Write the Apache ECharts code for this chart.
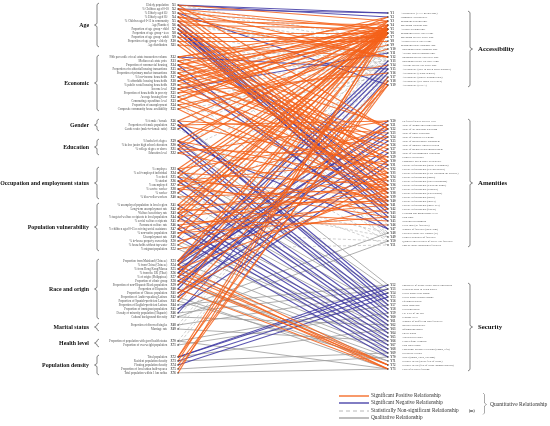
<!DOCTYPE html>
<html>
<head>
<meta charset="utf-8">
<title>Relationships</title>
<script src="https://cdn.jsdelivr.net/npm/echarts@6/dist/echarts.min.js"></script>
<style>html,body{margin:0;padding:0;background:#fff}#box{width:550px;height:426px}</style>
</head>
<body>
<div id="box"></div>
<script>
// left side (X) groups, slot = row position (one row ~4px)
var leftGroups = ['Age', 'Economic', 'Gender', 'Education', 'Occupation and employment status',
  'Population vulnerability', 'Race and origin', 'Marital status', 'Health level', 'Population density'];
var leftSizes = [11, 14, 3, 4, 8, 12, 15, 2, 2, 5];
var leftStart = [0, 13, 29, 34, 41, 50, 64, 80, 84, 88];

var rightGroups = ['Accessibility', 'Amenities', 'Security'];
var rightSizes = [19, 32, 22];
var rightStart = [2, 29, 70];

var leftLabels = [
  'Elderly population', '% Children aged 0-18', '% Elderly aged 65+', '% Elderly aged 85+',
  '% Children aged 0-12 in community', 'Age(Number)', 'Proportion of age group - child',
  'Proportion of age group - teen', 'Proportion of age group - adult', 'Proportion of age group - elderly',
  'Age distribution',
  '90th percentile of real estate transaction volume', 'Median real estate price',
  'Proportion of commercial housing', 'Proportion of residential housing transactions',
  'Proportion of primary market transactions', '% low-income households', '% affordable housing households',
  '% public rental housing households', 'Income level', 'Proportion of households in poverty',
  'Average housing floor', 'Commuting expenditure level', 'Proportion of unemployment',
  'Composite community house availability',
  '% female / female', 'Proportion of female population', 'Gender ratio (male-to-female ratio)',
  '% bachelor\'s degree', '% below junior high school education', '% college degree or above', 'Education level',
  '% employee', '% self-employed individual', '% retired', '% student', '% unemployed', '% service worker',
  '% worker', '% blue-collar workers',
  '% unemployed population in local region', 'Long-term unemployment rate', 'Welfare beneficiary rate',
  '% targeted welfare recipients in local population', '% social welfare recipients', 'Permanent welfare rate',
  '% children aged 0-15 receiving social assistance', '% non-native population', 'Unemployment rate',
  '% in-house property ownership', '% households without tap water', '% migrant population',
  'Proportion from Mainland (Chinese)', '% from China (Chinese)', '% from Hong Kong/Macau', '% from the UK (Tibet)',
  '% of origin (Philippines)', 'Proportion of ethnic group', 'Proportion of non-Hispanic Black population',
  'Proportion of Hispanics', 'Proportion of Chinese population', 'Proportion of Arabic-speaking Latinos',
  'Proportion of Spanish-proficient Latinos', 'Proportion of English-proficient Latinos',
  'Proportion of immigrant population', 'Density of minority population (Hispanic)', 'Cultural background diversity',
  'Proportion of divorced/singles', 'Marriage rate',
  'Proportion of population with good health status', 'Proportion of overweight population',
  'Total population', 'Resident population density', 'Floating population density',
  'Proportion of local urban built-up area', 'Total population within 1 km radius'
];

var rightLabels = [
  'Accessibility (XXX m coverage)', 'Composite accessibility', 'Minimum walking time', 'Maximum walking time',
  'Average walking time', 'Minimum bicycle travel time', 'Maximum bicycle travel time', 'Average bicycle travel time',
  'Minimum public transport time', 'Maximum public transport time', 'Average public transport time',
  'Minimum private car travel time', 'Maximum private car travel time', 'Average private car travel time',
  'Accessibility (user-to-green space distance)', 'Accessibility (visitor density)',
  'Accessibility (supply-demand ratio)', 'Accessibility (per capita UGS area)', 'Accessibility (SNCA)',
  'Preferred facility activity level', 'Value of animal and plant protection', 'Value of air pollution reduction',
  'Value of noise reduction', 'Value of rainwater retention', 'Value of microclimate adjustment',
  'Value of improve physical health', 'Value of mental health improvement', 'Value of environmental education',
  'Esthetic experience', 'Composite green space availability', 'Facility requirements (social willingness)',
  'Facility requirements (rest and picnic)', 'Facility requirements (relax watching the scenery)',
  'Facility requirements (sports)', 'Facility requirements (kids\' playground)', 'Facility requirements (watch the game)',
  'Facility requirements (aerobics)', 'Facility requirements (water sports)', 'Facility requirements (dance)',
  'Facility requirements (soccer)', 'Facility requirements (shade tree)', 'Facility requirements (fitness)',
  'Cleaning and maintenance level', 'Path slope', 'Walking environment', 'POIS total (21 facilities)',
  'Number of facilities (total/3km)', 'Facilities under tree canopy (%)', 'Esthetic attributes of facilities',
  'Quantity and diversity of active-use facilities', 'Poor or under-maintained facilities',
  'Possibility of being visible and seeing others', 'Hidden or hard-to-reach places', 'Green plants with thorns',
  'Green plants without thorns', 'Equipment status', 'Road condition', 'Greening status', 'Fill level of the bin',
  'Garbage level', 'Number of graffiti on park facilities', 'Internet accessibility', 'Information board',
  'Police patrol', 'Video surveillance', 'Fences/fight elements', 'Park path length',
  'Functional intensive division (ramps, lifts)', 'Deliberate terrain', 'Water (ponds, lakes, streams)',
  'Security needs (users\' fear of crime)', 'Security needs (fear of crime among students)', 'Lack of security/fencing'
];

// edges: [X index, [Y indices]]
var posEdges = [
  [1,[3,22]],[2,[5,12,30]],[3,[5,31]],[4,[6,12,33]],[5,[4,12,34]],[6,[5,35]],[7,[22,36]],[8,[6,37]],[9,[7,38]],[10,[8,40]],[11,[12,39]],
  [12,[3,5,21]],[13,[5,24,28]],[14,[2,6,25]],[15,[6,26]],[16,[4,30,41]],[17,[3,6,27]],[18,[5,7,29]],[19,[6,32]],[20,[4,9,34]],
  [21,[5,16]],[22,[6,36]],[23,[2,5,33]],[24,[14,38]],[25,[10,42]],
  [26,[5,23]],[27,[20,31]],[28,[6]],
  [29,[5,35]],[30,[3,37]],[31,[6,29]],[32,[20,40]],
  [33,[4,24]],[34,[5,36]],[35,[6,43]],[36,[30,39]],[37,[5,44]],[38,[22,41]],[39,[6]],[40,[37]],
  [41,[4,40]],[42,[5,45]],[43,[6,33]],[44,[3,38]],[45,[5,46]],[46,[41]],[47,[6,34]],[48,[36,44]],[49,[5]],[50,[39]],[51,[21]],[52,[42]],
  [53,[4,26]],[54,[5,72]],[55,[37,73]],[56,[72]],[57,[6,73]],[58,[72]],[59,[18]],[60,[73]],[61,[34]],[62,[5]],[63,[19]],
  [72,[5,17]],[73,[6]],[74,[19]],[75,[18]],[76,[4]]
];
var negEdges = [
  [1,[1,2]],[2,[1]],[3,[19]],[5,[36]],[6,[38,41]],[7,[40,42,44]],[8,[43]],[12,[15]],[14,[47]],[17,[45]],[20,[11]],
  [26,[55]],[27,[56,57]],[29,[47,58]],[30,[59]],[31,[60]],[33,[61]],[35,[62]],[36,[63]],[38,[64]],
  [41,[65]],[43,[66]],[44,[67]],[46,[68]],[47,[69]],[49,[70]],
  [53,[20,13]],[54,[22,14]],[55,[24]],[56,[21,15]],[57,[25]],[58,[27]],[59,[23]],[60,[16]],[61,[28]],[62,[30]],[65,[31]],[66,[17]],
  [72,[52,53]],[73,[54]],[74,[55]]
];
var nsEdges = [
  [1,[8,45]],[2,[9]],[3,[10,48]],[4,[13]],[5,[14,49]],[6,[11]],[8,[15]],[9,[16,50]],[10,[17]],[11,[18]],
  [12,[10,46]],[13,[11]],[15,[12,47]],[16,[13]],[18,[14]],[19,[15]],[21,[48]],[22,[16]],[24,[17,49]],[25,[18]],
  [26,[8]],[28,[9,50]],[30,[10]],[32,[11]],[33,[51]],[34,[12]],[36,[13]],[37,[48]],[39,[14]],[40,[49]],
  [42,[15]],[45,[16]],[48,[50]],[50,[17]],[52,[51]],[53,[8]],[55,[9]],[57,[10]],[59,[11]],[61,[12]],
  [63,[13]],[64,[14]],[67,[15]],[68,[16]],[69,[17]],[70,[18]],[71,[19]]
];
var qualEdges = [
  [26,[52]],[29,[53]],[33,[54]],[34,[56]],[36,[57]],[39,[58]],[40,[60]],[42,[61]],[44,[62]],[47,[63]],
  [50,[64]],[51,[65]],[52,[66]],[53,[67]],[55,[68]],[56,[69]],[58,[70,71]],[60,[72]],[62,[73]],[63,[71]],
  [64,[52]],[65,[48]],[66,[53]],[67,[50,62]],[68,[54]],[69,[66]],[70,[57,73]],[71,[59]],[72,[63]],[73,[69]],
  [75,[70]],[76,[73]]
];

function slotOf(idx, starts, sizes) {
  var n = idx - 1;
  for (var g = 0; g < sizes.length; g++) {
    if (n < sizes[g]) return starts[g] + n;
    n -= sizes[g];
  }
  return 0;
}
function edgeData(list) {
  var out = [];
  list.forEach(function (e) {
    e[1].forEach(function (r) {
      out.push({coords: [[0, slotOf(e[0], leftStart, leftSizes)], [1, slotOf(r, rightStart, rightSizes)]]});
    });
  });
  return out;
}

var leftNodes = leftLabels.map(function (s, i) { return [0, slotOf(i + 1, leftStart, leftSizes)]; });
var rightNodes = rightLabels.map(function (s, i) { return [1, slotOf(i + 1, rightStart, rightSizes)]; });

var bracketNames = [], bracketData = [];
leftGroups.forEach(function (g, i) {
  bracketNames.push(g);
  bracketData.push([0, leftStart[i], leftStart[i] + leftSizes[i] - 1]);
});
rightGroups.forEach(function (g, i) {
  bracketNames.push(g);
  bracketData.push([1, rightStart[i], rightStart[i] + rightSizes[i] - 1]);
});

var serif = '"Liberation Serif", "DejaVu Serif", serif';
var ORANGE = '#f4621a', BLUE = '#3d36a3';
var legendFont = '5.3px ' + serif;

var chart = echarts.init(document.getElementById('box'));
chart.setOption({
  animation: false,
  backgroundColor: '#fff',
  grid: {left: 178, right: 162, top: 5, bottom: 53},
  xAxis: {type: 'value', min: 0, max: 1, show: false},
  yAxis: {type: 'value', min: 0, max: 92, inverse: true, show: false},
  series: [
    {type: 'lines', coordinateSystem: 'cartesian2d', z: 1, silent: true,
      lineStyle: {color: '#b8b8b8', width: 0.7, type: [3, 2], opacity: 0.95},
      data: edgeData(nsEdges)},
    {type: 'lines', coordinateSystem: 'cartesian2d', z: 2, silent: true,
      lineStyle: {color: '#9c9c9c', width: 0.9, opacity: 0.9},
      data: edgeData(qualEdges)},
    {type: 'lines', coordinateSystem: 'cartesian2d', z: 3, silent: true,
      lineStyle: {color: BLUE, width: 1.1, opacity: 0.85},
      data: edgeData(negEdges)},
    {type: 'lines', coordinateSystem: 'cartesian2d', z: 4, silent: true,
      lineStyle: {color: ORANGE, width: 1.2, opacity: 0.85},
      data: edgeData(posEdges)},
    {type: 'scatter', z: 5, symbolSize: 1.6, itemStyle: {color: '#222'},
      data: leftNodes,
      label: {show: true, position: 'left', distance: 1.5,
        formatter: function (p) { return '{t|' + leftLabels[p.dataIndex] + '} {c|X' + (p.dataIndex + 1) + '}'; },
        rich: {
          t: {fontSize: 3, fontFamily: serif, color: '#222'},
          c: {fontSize: 3, fontFamily: serif, fontWeight: 'bold', color: '#111'}
        }}},
    {type: 'scatter', z: 5, symbolSize: 1.6, itemStyle: {color: '#222'},
      data: rightNodes,
      label: {show: true, position: 'right', distance: 1.5,
        formatter: function (p) { return '{c|Y' + (p.dataIndex + 1) + '}  {t|' + rightLabels[p.dataIndex] + '}'; },
        rich: {
          t: {fontSize: 2.8, fontFamily: serif, color: '#222'},
          c: {fontSize: 3, fontFamily: serif, fontWeight: 'bold', color: '#111'}
        }}},
    {type: 'custom', coordinateSystem: 'cartesian2d', z: 6, silent: true,
      data: bracketData,
      encode: {x: 0, y: [1, 2]},
      renderItem: function (params, api) {
        var side = api.value(0);
        var a = api.coord([side, api.value(1)]);
        var b = api.coord([side, api.value(2)]);
        var dir = side === 0 ? -1 : 1;
        var x = a[0] + dir * (side === 0 ? 81 : 82);
        var y0 = a[1] - 2, y1 = b[1] + 2, ym = (y0 + y1) / 2;
        var pts = [[x - dir * 2, y0], [x, y0 + 1.5], [x, ym - 1.5], [x + dir * 2.5, ym],
          [x, ym + 1.5], [x, y1 - 1.5], [x - dir * 2, y1]];
        return {type: 'group', children: [
          {type: 'polyline', shape: {points: pts}, style: {stroke: '#333', lineWidth: 0.6, fill: null}},
          {type: 'text', x: x + dir * 8, y: ym, style: {
            text: bracketNames[params.dataIndex], align: side === 0 ? 'right' : 'left', verticalAlign: 'middle',
            font: 'bold ' + (side === 0 ? 5.9 : 6.8) + 'px ' + serif, fill: '#111'}}
        ]};
      }}
  ],
  graphic: [
    {type: 'line', shape: {x1: 339, y1: 396, x2: 369, y2: 396}, style: {stroke: ORANGE, lineWidth: 1.3}},
    {type: 'line', shape: {x1: 339, y1: 403, x2: 369, y2: 403}, style: {stroke: BLUE, lineWidth: 1.3}},
    {type: 'line', shape: {x1: 339, y1: 411, x2: 369, y2: 411}, style: {stroke: '#b8b8b8', lineWidth: 1, lineDash: [4, 3]}},
    {type: 'line', shape: {x1: 339, y1: 418, x2: 369, y2: 418}, style: {stroke: '#9c9c9c', lineWidth: 1.3}},
    {type: 'text', x: 371, y: 396, style: {text: 'Significant Positive Relationship', font: legendFont, fill: '#333', verticalAlign: 'middle'}},
    {type: 'text', x: 371, y: 403, style: {text: 'Significant Negative Relationship', font: legendFont, fill: '#333', verticalAlign: 'middle'}},
    {type: 'text', x: 371, y: 411, style: {text: 'Statistically Non-significant Relationship', font: legendFont, fill: '#333', verticalAlign: 'middle'}},
    {type: 'text', x: 469, y: 411, style: {text: '(ns)', font: 'bold 3.5px ' + serif, fill: '#333', verticalAlign: 'middle'}},
    {type: 'text', x: 371, y: 418, style: {text: 'Qualitative Relationship', font: legendFont, fill: '#333', verticalAlign: 'middle'}},
    {type: 'polyline', shape: {points: [[483, 393], [484.5, 394.5], [484.5, 403], [486.5, 404.5], [484.5, 406], [484.5, 413], [483, 414.5]]},
      style: {stroke: '#555', lineWidth: 0.5, fill: null}},
    {type: 'text', x: 490, y: 404.5, style: {text: 'Quantitative Relationship', font: '5.6px ' + serif, fill: '#333', verticalAlign: 'middle'}}
  ]
});
</script>
</body>
</html>
